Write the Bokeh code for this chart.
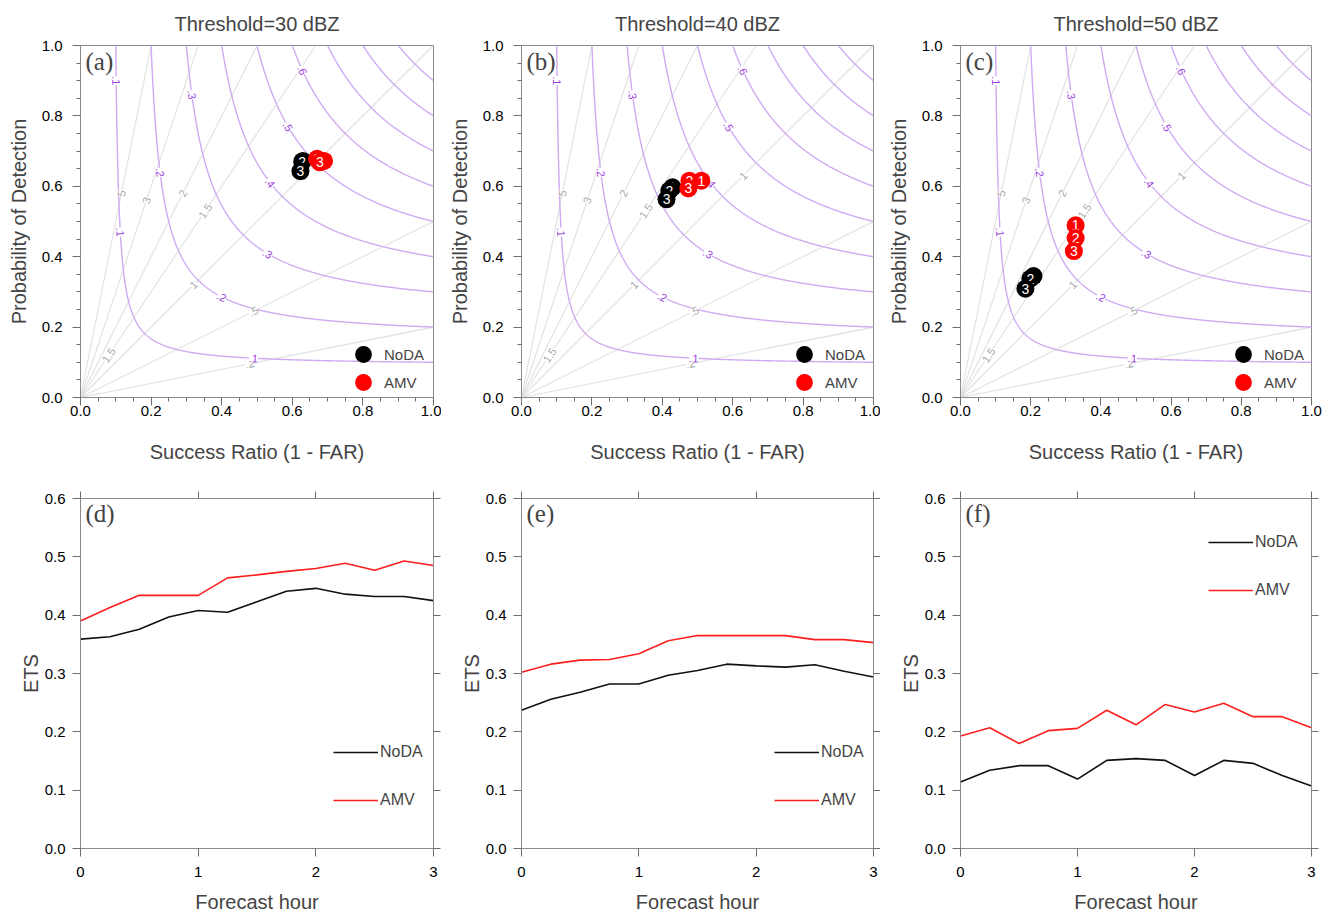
import numpy as np
from bokeh.plotting import figure
from bokeh.layouts import row, column
from bokeh.models import (Range1d, FixedTicker, Legend, LegendItem, Label, LinearAxis,
                          ColumnDataSource, NumeralTickFormatter)
from bokeh.core.properties import value
from bokeh.embed import file_html
from bokeh.resources import INLINE

# ---------------- data ----------------
titles = ["Threshold=30 dBZ", "Threshold=40 dBZ", "Threshold=50 dBZ"]
top_tags = ["(a)", "(b)", "(c)"]
bottom_tags = ["(d)", "(e)", "(f)"]
series_names = ["NoDA", "AMV"]
point_ids = ["1", "2", "3"]

# performance diagram points (success ratio, POD) per threshold, for forecast 1,2,3
noda_sr = [[0.630, 0.628, 0.623], [0.429, 0.420, 0.412], [0.208, 0.199, 0.185]]
noda_pod = [[0.672, 0.670, 0.643], [0.597, 0.588, 0.563], [0.345, 0.338, 0.309]]
amv_sr = [[0.690, 0.670, 0.678], [0.511, 0.477, 0.474], [0.328, 0.328, 0.323]]
amv_pod = [[0.672, 0.678, 0.668], [0.616, 0.616, 0.594], [0.489, 0.453, 0.416]]

hours = [0.0, 0.25, 0.5, 0.75, 1.0, 1.25, 1.5, 1.75, 2.0, 2.25, 2.5, 2.75, 3.0]
ets_noda = [
    [0.359, 0.363, 0.376, 0.397, 0.408, 0.405, 0.423, 0.441, 0.446, 0.436, 0.432, 0.432, 0.425],
    [0.237, 0.256, 0.268, 0.282, 0.282, 0.297, 0.305, 0.316, 0.313, 0.311, 0.315, 0.304, 0.294],
    [0.114, 0.134, 0.142, 0.142, 0.119, 0.151, 0.154, 0.151, 0.125, 0.151, 0.146, 0.125, 0.107],
]
ets_amv = [
    [0.390, 0.413, 0.434, 0.434, 0.434, 0.464, 0.469, 0.475, 0.480, 0.489, 0.477, 0.493, 0.485],
    [0.302, 0.316, 0.323, 0.324, 0.334, 0.356, 0.365, 0.365, 0.365, 0.365, 0.358, 0.358, 0.353],
    [0.193, 0.207, 0.180, 0.202, 0.206, 0.237, 0.212, 0.247, 0.234, 0.249, 0.226, 0.226, 0.207],
]

csi_levels = [0.1, 0.2, 0.3, 0.4, 0.5, 0.6, 0.7, 0.8, 0.9]
bias_levels = [0.2, 0.5, 1.0, 1.5, 2.0, 3.0, 5.0]
perf_ticks = [0.0, 0.2, 0.4, 0.6, 0.8, 1.0]
perf_minor = [round(0.05 * i, 2) for i in range(21)]
ets_ticks = [0.0, 0.1, 0.2, 0.3, 0.4, 0.5, 0.6]
hour_ticks = [0, 1, 2, 3]

# where the contour labels sit (approximate reading, projected onto each line)
CSI_LABEL_AT = {0.1: [(0.105, 0.90), (0.12, 0.47), (0.49, 0.12)],
                0.2: [(0.236, 0.64), (0.40, 0.285)],
                0.3: [(0.32, 0.86), (0.53, 0.41)],
                0.4: [(0.54, 0.61)],
                0.5: [(0.59, 0.77)],
                0.6: [(0.63, 0.93)]}
BIAS_LABEL_AT = {5.0: [(0.12, 0.58)], 3.0: [(0.19, 0.56)], 2.0: [(0.29, 0.58)],
                 1.5: [(0.36, 0.53), (0.08, 0.12)], 1.0: [(0.63, 0.63), (0.32, 0.32)],
                 0.5: [(0.49, 0.245)], 0.2: [(0.48, 0.096)]}

# ---------------- style ----------------
FONT = "Liberation Sans"
SERIF = "Liberation Serif"
FRAME = "#8a8a8a"
TICK = "#6e6e6e"
CSI_LINE = "#cfaaf3"
CSI_TEXT = "#9b3fe0"
BIAS_LINE = "#e0e0e0"
BIAS_TEXT = "#a8a8a8"
RED = "#ff1e1e"
BLACK = "#111111"

WIDTHS = [441, 439, 443]
RIGHT = [8, 7, 12]
LEFT = 80


def lab(v):
    s = ("%g" % v)
    return s[1:] if s.startswith("0.") else s


def style_axis(ax, label_standoff, axis_standoff, minor=True):
    ax.axis_line_color = FRAME
    ax.major_tick_line_color = TICK
    ax.minor_tick_line_color = TICK if minor else None
    ax.major_tick_in = 0
    ax.major_tick_out = 8
    ax.minor_tick_in = 0
    ax.minor_tick_out = 4
    ax.major_label_text_font = FONT
    ax.major_label_text_font_size = "15px"
    ax.major_label_text_color = "black"
    ax.major_label_standoff = label_standoff
    ax.axis_label_text_font = FONT
    ax.axis_label_text_font_size = "20px"
    ax.axis_label_text_font_style = "normal"
    ax.axis_label_standoff = axis_standoff


def perf_panel(k):
    p = figure(width=WIDTHS[k], height=468, x_range=Range1d(0, 1), y_range=Range1d(0, 1),
               output_backend="svg", toolbar_location=None, title=titles[k],
               min_border_left=LEFT, min_border_right=RIGHT[k], min_border_top=45, min_border_bottom=71)
    p.title.align = "center"
    p.title.text_font = FONT
    p.title.text_font_size = "20px"
    p.title.text_font_style = "normal"
    p.title.standoff = 21
    p.grid.visible = False
    p.outline_line_color = FRAME
    p.xaxis.axis_label = "Success Ratio (1 - FAR)"
    p.yaxis.axis_label = "Probability of Detection"
    p.xaxis.ticker = FixedTicker(ticks=perf_ticks, minor_ticks=perf_minor)
    p.yaxis.ticker = FixedTicker(ticks=perf_ticks, minor_ticks=perf_minor)
    p.xaxis.formatter = NumeralTickFormatter(format="0.0")
    p.yaxis.formatter = NumeralTickFormatter(format="0.0")
    style_axis(p.xaxis[0], 0, 22)
    style_axis(p.yaxis[0], 10, 9)

    # bias lines
    for b in bias_levels:
        xe, ye = (1.0 / b, 1.0) if b >= 1 else (1.0, b)
        p.line([0, xe], [0, ye], line_color=BIAS_LINE, line_width=1.1)
    # CSI curves
    t = np.linspace(0, 1, 700)
    for c in csi_levels:
        sr = c + (1 - c) * t ** 3
        sr[0] = c * 1.000001
        pod = 1.0 / (1.0 / c + 1.0 - 1.0 / sr)
        p.line(sr, pod, line_color=CSI_LINE, line_width=1.4)

    # bias labels
    bx, by, bt, ba = [], [], [], []
    for b, pts in BIAS_LABEL_AT.items():
        for s, q in pts:
            if b >= 1:
                yy = q; xx = q / b
            else:
                xx = s; yy = b * s
            bx.append(xx); by.append(yy); bt.append(lab(b)); ba.append(float(np.arctan(b)))
    p.text(x="x", y="y", text="t", angle="a",
           source=ColumnDataSource(dict(x=bx, y=by, t=bt, a=ba)),
           text_font=value(FONT), text_font_size="11px", text_color=BIAS_TEXT,
           text_align="center", text_baseline="middle", background_fill_color="white")
    # CSI labels
    cx, cy, ct, ca = [], [], [], []
    for c, pts in CSI_LABEL_AT.items():
        for s, q in pts:
            if q >= s:
                yy = q; xx = 1.0 / (1.0 / c + 1.0 - 1.0 / q)
            else:
                xx = s; yy = 1.0 / (1.0 / c + 1.0 - 1.0 / s)
            slope = -(yy ** 2) / (xx ** 2)
            cx.append(xx); cy.append(yy); ct.append(lab(c)); ca.append(float(np.arctan(slope)))
    p.text(x="x", y="y", text="t", angle="a",
           source=ColumnDataSource(dict(x=cx, y=cy, t=ct, a=ca)),
           text_font=value(FONT), text_font_size="11px", text_color=CSI_TEXT,
           text_align="center", text_baseline="middle", background_fill_color="white")

    # points
    legend_r = {}
    for name, xs, ys, col in (("NoDA", noda_sr[k], noda_pod[k], "black"),
                              ("AMV", amv_sr[k], amv_pod[k], "#ff0000")):
        for i in range(3):
            src = ColumnDataSource(dict(x=[xs[i]], y=[ys[i]], t=[point_ids[i]]))
            r = p.scatter("x", "y", source=src, size=18, fill_color=col, line_color=None)
            p.text("x", "y", text="t", source=src, text_color="white", text_font=value(FONT),
                   text_font_size="14px", text_align="center", text_baseline="middle")
            legend_r.setdefault(name, r)
    for name, loc in (("NoDA", (262, 22)), ("AMV", (262, -6))):
        leg = Legend(items=[LegendItem(label=name, renderers=[legend_r[name]])], location=loc,
                     glyph_width=42, glyph_height=42, label_standoff=0, padding=0, margin=0,
                     border_line_color=None, background_fill_alpha=0,
                     label_text_font=FONT, label_text_font_size="15px")
        p.add_layout(leg)

    p.add_layout(Label(x=5, y=336, x_units="screen", y_units="screen", text=top_tags[k],
                       text_font=SERIF, text_font_size="25px", text_baseline="middle"))
    return p


def ets_panel(k):
    p = figure(width=WIDTHS[k], height=447, x_range=Range1d(0, 3), y_range=Range1d(0, 0.6),
               output_backend="svg", toolbar_location=None,
               min_border_left=LEFT, min_border_right=RIGHT[k], min_border_top=30, min_border_bottom=67)
    p.grid.visible = False
    p.outline_line_color = FRAME
    p.xaxis.axis_label = "Forecast hour"
    p.yaxis.axis_label = "ETS"
    p.xaxis.ticker = FixedTicker(ticks=hour_ticks, minor_ticks=[])
    p.yaxis.ticker = FixedTicker(ticks=ets_ticks, minor_ticks=[])
    p.xaxis.formatter = NumeralTickFormatter(format="0")
    p.yaxis.formatter = NumeralTickFormatter(format="0.0")
    style_axis(p.xaxis[0], 10, 11, minor=False)
    style_axis(p.yaxis[0], 7, 0, minor=False)
    top = LinearAxis(ticker=FixedTicker(ticks=hour_ticks, minor_ticks=[]))
    right = LinearAxis(ticker=FixedTicker(ticks=ets_ticks, minor_ticks=[]))
    for ax in (top, right):
        style_axis(ax, 0, 0, minor=False)
        ax.major_tick_out = 7
        ax.major_label_text_font_size = "0px"
        ax.major_label_text_color = None
    p.add_layout(top, "above")
    p.add_layout(right, "right")

    l1 = p.line(hours, ets_noda[k], line_color=BLACK, line_width=1.6)
    l2 = p.line(hours, ets_amv[k], line_color=RED, line_width=1.6)
    loc = (248, 248) if k == 2 else (253, 38)
    leg = Legend(items=[LegendItem(label="NoDA", renderers=[l1]), LegendItem(label="AMV", renderers=[l2])],
                 location=loc, glyph_width=45, glyph_height=20, spacing=28, label_standoff=2,
                 padding=0, margin=0, border_line_color=None, background_fill_alpha=0,
                 label_text_font=FONT, label_text_font_size="16px")
    p.add_layout(leg)
    p.add_layout(Label(x=5, y=335, x_units="screen", y_units="screen", text=bottom_tags[k],
                       text_font=SERIF, text_font_size="25px", text_baseline="middle"))
    return p


tops = [perf_panel(k) for k in range(3)]
bots = [ets_panel(k) for k in range(3)]
layout = column(row(*tops), row(*bots))
open("out.html", "w").write(file_html(layout, INLINE))
